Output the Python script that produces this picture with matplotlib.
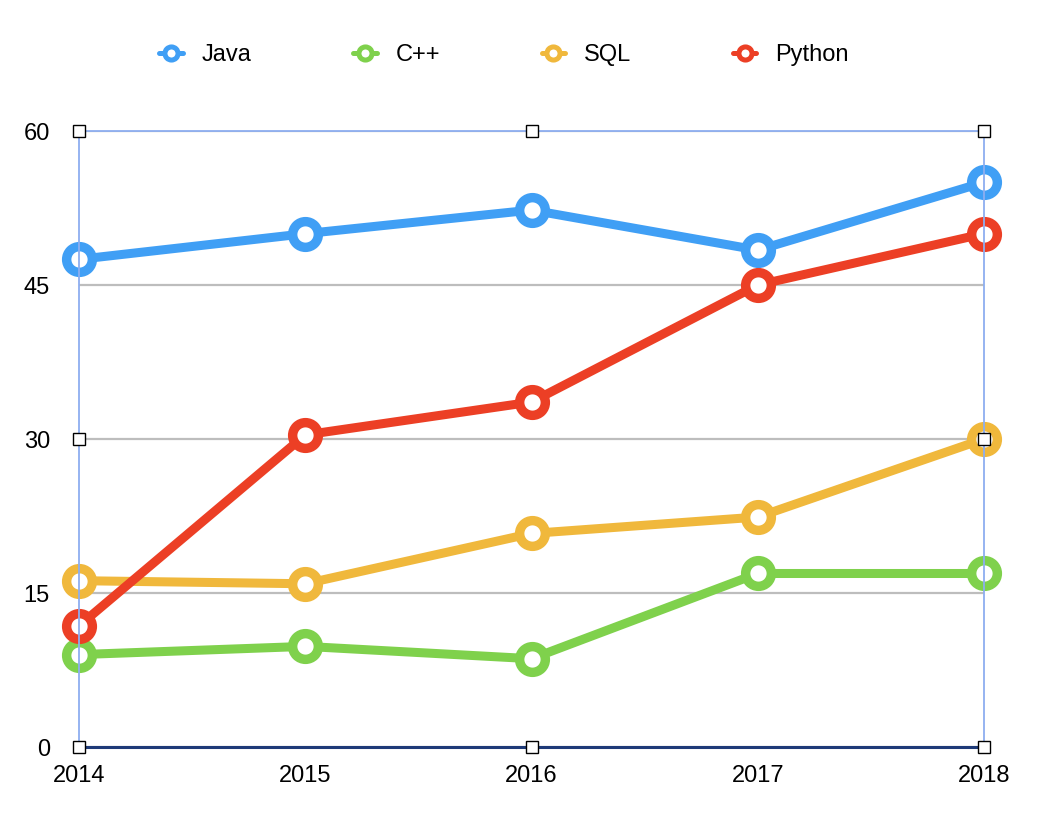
import matplotlib.pyplot as plt

plt.rcParams['font.family'] = ['Liberation Sans', 'DejaVu Sans']

years = [2014, 2015, 2016, 2017, 2018]
java = [47.5, 50.0, 52.3, 48.4, 55.0]
cpp = [9.0, 9.8, 8.6, 16.9, 16.9]
sql = [16.2, 15.9, 20.8, 22.4, 30.0]
python = [11.8, 30.4, 33.6, 45.0, 50.0]

series = [
    ('Java', java, '#409FF5'),
    ('C++', cpp, '#7FD14C'),
    ('SQL', sql, '#F0B83C'),
    ('Python', python, '#EC3F25'),
]
yticks = [0, 15, 30, 45, 60]

fig = plt.figure(figsize=(10.48, 8.36), dpi=100)
ax = fig.add_axes([79 / 1048, 89 / 836, 905 / 1048, 616 / 836])

for name, vals, col in series:
    ax.plot(years, vals, color=col, lw=6.5, marker='o', markersize=18.5,
            markeredgewidth=6.8, markerfacecolor='white', markeredgecolor=col,
            label=name, clip_on=False, zorder=3, solid_capstyle='round')

ax.set_xlim(2014, 2018)
ax.set_ylim(0, 60)
ax.set_xticks(years)
ax.set_yticks(yticks)
ax.tick_params(length=0, labelsize=17)
ax.tick_params(axis='x', pad=13)
ax.tick_params(axis='y', pad=21)
ax.grid(axis='y', color='#BDBDBD', lw=1.6, zorder=0)

for side in ['left', 'right', 'top']:
    ax.spines[side].set_color('#8DAEF0')
    ax.spines[side].set_linewidth(1.3)
    ax.spines[side].set_zorder(10)
ax.spines['bottom'].set_color('#1E3A78')
ax.spines['bottom'].set_linewidth(2.2)
ax.spines['bottom'].set_zorder(10)

# selection handles
hx = [0, 0.5, 1, 0, 1, 0, 0.5, 1]
hy = [1, 1, 1, 0.5, 0.5, 0, 0, 0]
ax.plot(hx, hy, ls='none', marker='s', markersize=8, markerfacecolor='white',
        markeredgecolor='black', markeredgewidth=1, transform=ax.transAxes,
        clip_on=False, zorder=11)

handles, labels = ax.get_legend_handles_labels()
leg = fig.legend(handles, labels, loc='center', bbox_to_anchor=(504 / 1048, 1 - 55 / 836),
                 ncol=4, frameon=False, fontsize=17, handlelength=1.0,
                 handletextpad=0.8, columnspacing=4.3, markerscale=0.51)
for h in leg.legend_handles:
    h.set_linewidth(3.6)
    h.set_markeredgewidth(3.6)

fig.savefig('out.png', dpi=100)
